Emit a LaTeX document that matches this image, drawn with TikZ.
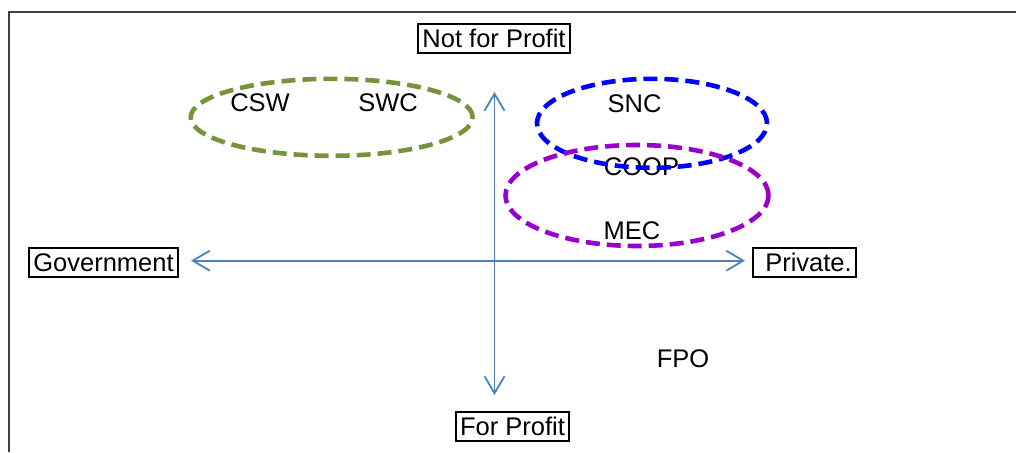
\documentclass[tikz,border=0pt]{standalone}
\usepackage{fontspec}
\setmainfont{Liberation Sans}
\usetikzlibrary{arrows.meta,shapes.geometric}
\definecolor{axisblue}{HTML}{4F81BD}
\definecolor{olivegreen}{HTML}{77933C}
\definecolor{ovalblue}{HTML}{0000FF}
\definecolor{ovalpurple}{HTML}{9900CC}
\definecolor{framegray}{HTML}{404040}
\tikzset{
  lbl/.style={font=\fontsize{25.5}{30}\selectfont, inner sep=0pt, text height=18.3pt, text depth=0pt},
  boxlbl/.style={lbl, draw=black, line width=2pt, inner xsep=4.5pt, inner ysep=5.5pt},
  oval/.style={ellipse, draw, line width=4.6pt, dash pattern=on 14pt off 7pt, inner sep=0pt},
  axis/.style={draw=axisblue, line width=1.8pt, {Straight Barb[length=17pt,width=20pt,line width=1.8pt]}-{Straight Barb[length=17pt,width=20pt,line width=1.8pt]}}
}
\begin{document}
\begin{tikzpicture}[x=1pt,y=-1pt]
\useasboundingbox (0,0) rectangle (1016,452);
% frame
\draw[framegray, line width=1.5pt] (9,452) -- (9,12) -- (1016,12);
% labels
\node[boxlbl] (nfp) at (494,38.5) {Not for Profit};
\node[boxlbl] (gov) at (103.5,262.5) {Government};
\node[boxlbl] (priv) at (804.5,262.5) {\hspace{8pt}Private.};
\node[boxlbl] (fp) at (512.5,426.3) {For Profit};
\node[lbl] (csw) at (260,102) {CSW};
\node[lbl] (swc) at (388,102) {SWC};
\node[lbl] (snc) at (634.5,103) {SNC};
\node[lbl] (coop) at (641.5,166.7) {COOP};
\node[lbl] (mec) at (632,230.3) {MEC};
\node[lbl] (fpo) at (683,358) {FPO};
% axes
\coordinate (left) at (191,260.7);
\coordinate (right) at (745,260.7);
\coordinate (top) at (494.5,92);
\coordinate (bottom) at (494.5,395);
\draw[axis] (left) -- (right);
\draw[axis] (top) -- (bottom);
% ovals
\node[oval, draw=olivegreen, minimum width=282pt, minimum height=77pt] (g) at (331.7,117.3) {};
\node[oval, draw=ovalblue, minimum width=230pt, minimum height=89pt] (b) at (652,123.3) {};
\node[oval, draw=ovalpurple, minimum width=263pt, minimum height=101pt] (p) at (637,195.5) {};
\end{tikzpicture}
\end{document}
